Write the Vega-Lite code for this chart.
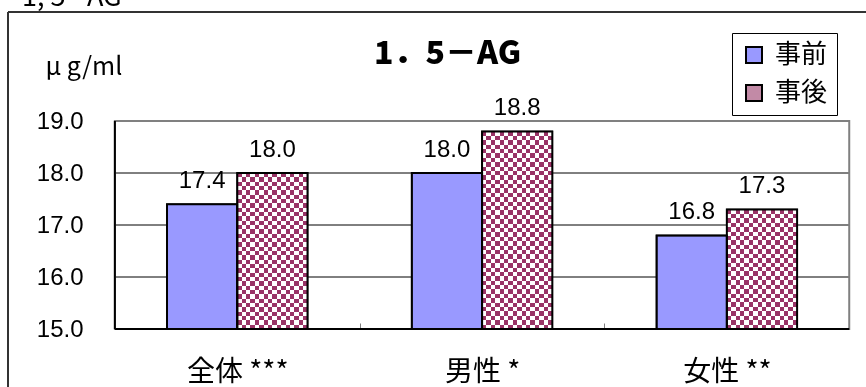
{
  "$schema": "https://vega.github.io/schema/vega-lite/v6.json",
  "autosize": "none",
  "width": 858,
  "height": 375,
  "padding": {"left": 8, "top": 12, "right": 0, "bottom": 0},
  "background": "white",
  "config": {
    "view": {"stroke": "#333333", "strokeWidth": 2, "strokeDash": [858, 1233, 375, 0]},
    "font": "Liberation Sans, Noto Sans CJK JP"
  },
  "title": {
    "text": "1, 5 - AG",
    "font": "Noto Sans CJK JP",
    "fontWeight": "normal",
    "fontSize": 27,
    "anchor": "start",
    "frame": "group",
    "baseline": "alphabetic",
    "offset": -21,
    "dx": 14,
    "color": "black"
  },
  "datasets": {
    "bars": [
      {"cat": "全体 ***", "when": "事前", "value": 17.4},
      {"cat": "全体 ***", "when": "事後", "value": 18.0},
      {"cat": "男性 *", "when": "事前", "value": 18.0},
      {"cat": "男性 *", "when": "事後", "value": 18.8},
      {"cat": "女性 **", "when": "事前", "value": 16.8},
      {"cat": "女性 **", "when": "事後", "value": 17.3}
    ],
    "grid": [{"v": 16}, {"v": 17}, {"v": 18}],
    "one": [{"k": 1}]
  },
  "encoding": {
    "x": {
      "field": "cat",
      "type": "nominal",
      "sort": ["全体 ***", "男性 *", "女性 **"],
      "scale": {"paddingInner": 0.426, "paddingOuter": 0.4655, "align": 0.6977},
      "axis": {
        "title": "1．5－AG",
        "titleFont": "Noto Sans CJK JP",
        "titleFontSize": 32,
        "titleFontWeight": 900,
        "titleColor": "black",
        "titleAlign": "center",
        "titleBaseline": "alphabetic",
        "titleAnchor": "middle",
        "titleX": 439,
        "titleY": -266,
        "orient": "bottom",
        "offset": -58,
        "domain": false,
        "grid": false,
        "ticks": true,
        "bandPosition": 1,
        "tickOffset": 52.1,
        "labelOffset": -52.1,
        "tickSize": -6,
        "tickColor": "#808080",
        "tickWidth": 1,
        "labelAngle": 0,
        "labelFont": "Noto Sans CJK JP",
        "labelFontSize": 28,
        "labelColor": "black",
        "labelPadding": 35
      }
    },
    "y": {
      "type": "quantitative",
      "scale": {"domain": [13.885, 21.096], "nice": false, "zero": false},
      "axis": {
        "orient": "left",
        "offset": -107,
        "values": [15, 16, 17, 18, 19],
        "format": ".1f",
        "domain": false,
        "ticks": false,
        "tickSize": 0,
        "grid": false,
        "labelPadding": 32,
        "labelFontSize": 24,
        "labelColor": "black",
        "labelFont": "Liberation Sans",
        "title": "μ g/ml",
        "titleAngle": 0,
        "titleAlign": "left",
        "titleBaseline": "middle",
        "titleX": -70,
        "titleY": 54,
        "titleFont": "Noto Sans CJK JP",
        "titleFontSize": 25,
        "titleFontWeight": "normal",
        "titleColor": "black"
      }
    }
  },
  "layer": [
    {
      "data": {"name": "grid"},
      "mark": {"type": "rule", "color": "black", "strokeWidth": 1},
      "encoding": {
        "y": {"field": "v", "type": "quantitative"},
        "x": {"datum": "全体 ***", "bandPosition": -0.371},
        "x2": {"datum": "女性 **", "bandPosition": 1.371}
      }
    },
    {
      "data": {"name": "one"},
      "mark": {"type": "rect", "fillOpacity": 0, "stroke": "#808080", "strokeWidth": 2},
      "encoding": {
        "x": {"datum": "全体 ***", "bandPosition": -0.371},
        "x2": {"datum": "女性 **", "bandPosition": 1.371},
        "y": {"datum": 19},
        "y2": {"datum": 15}
      }
    },
    {
      "data": {"name": "bars"},
      "mark": {"type": "bar", "stroke": "black", "strokeWidth": 1.5},
      "encoding": {
        "xOffset": {"field": "when", "type": "nominal", "scale": {"domain": ["事前", "事後"], "paddingInner": 0, "paddingOuter": 0}},
        "y": {"field": "value", "type": "quantitative"},
        "y2": {"datum": 15},
        "fill": {
          "field": "when",
          "type": "nominal",
          "scale": {"domain": ["事前", "事後"], "range": ["#9999FF", "#C28AA6"]},
          "legend": {
            "orient": "none",
            "legendX": 724,
            "legendY": 21,
            "direction": "vertical",
            "title": null,
            "strokeColor": "black",
            "fillColor": "white",
            "padding": 9,
            "symbolType": "square",
            "symbolSize": 256,
            "symbolStrokeColor": "black",
            "symbolStrokeWidth": 2,
            "symbolOpacity": 1,
            "labelFont": "Noto Sans CJK JP",
            "labelFontSize": 26,
            "labelColor": "black",
            "labelOffset": 8,
            "rowPadding": 12
          }
        }
      }
    },
    {
      "data": {"name": "bars"},
      "transform": [{"filter": "datum.when === '事後'"}],
      "mark": {
        "type": "bar",
        "strokeWidth": 0,
        "fill": {"gradient": "linear", "x1": 0, "y1": 0, "x2": 1, "y2": 0, "stops": [
          {"offset": 0, "color": "#000"}, {"offset": 0.0625, "color": "#000"}, {"offset": 0.0625, "color": "#fff"}, {"offset": 0.125, "color": "#fff"},
          {"offset": 0.125, "color": "#000"}, {"offset": 0.1875, "color": "#000"}, {"offset": 0.1875, "color": "#fff"}, {"offset": 0.25, "color": "#fff"},
          {"offset": 0.25, "color": "#000"}, {"offset": 0.3125, "color": "#000"}, {"offset": 0.3125, "color": "#fff"}, {"offset": 0.375, "color": "#fff"},
          {"offset": 0.375, "color": "#000"}, {"offset": 0.4375, "color": "#000"}, {"offset": 0.4375, "color": "#fff"}, {"offset": 0.5, "color": "#fff"},
          {"offset": 0.5, "color": "#000"}, {"offset": 0.5625, "color": "#000"}, {"offset": 0.5625, "color": "#fff"}, {"offset": 0.625, "color": "#fff"},
          {"offset": 0.625, "color": "#000"}, {"offset": 0.6875, "color": "#000"}, {"offset": 0.6875, "color": "#fff"}, {"offset": 0.75, "color": "#fff"},
          {"offset": 0.75, "color": "#000"}, {"offset": 0.8125, "color": "#000"}, {"offset": 0.8125, "color": "#fff"}, {"offset": 0.875, "color": "#fff"},
          {"offset": 0.875, "color": "#000"}, {"offset": 0.9375, "color": "#000"}, {"offset": 0.9375, "color": "#fff"}, {"offset": 1, "color": "#fff"}
        ]}
      },
      "encoding": {
        "xOffset": {"field": "when", "type": "nominal", "scale": {"domain": ["事前", "事後"], "paddingInner": 0, "paddingOuter": 0}},
        "y": {"field": "value", "type": "quantitative"},
        "y2": {"datum": 15}
      }
    },
    {
      "data": {"name": "bars"},
      "transform": [{"filter": "datum.when === '事後' && datum.cat === '全体 ***'"}],
      "mark": {
        "type": "bar",
        "strokeWidth": 0,
        "blend": "difference",
        "fill": {"gradient": "linear", "x1": 0, "y1": 0, "x2": 0, "y2": 1, "stops": [
          {"offset": 0, "color": "#000"}, {"offset": 0.0278, "color": "#000"}, {"offset": 0.0278, "color": "#fff"}, {"offset": 0.0556, "color": "#fff"},
          {"offset": 0.0556, "color": "#000"}, {"offset": 0.0833, "color": "#000"}, {"offset": 0.0833, "color": "#fff"}, {"offset": 0.1111, "color": "#fff"},
          {"offset": 0.1111, "color": "#000"}, {"offset": 0.1389, "color": "#000"}, {"offset": 0.1389, "color": "#fff"}, {"offset": 0.1667, "color": "#fff"},
          {"offset": 0.1667, "color": "#000"}, {"offset": 0.1944, "color": "#000"}, {"offset": 0.1944, "color": "#fff"}, {"offset": 0.2222, "color": "#fff"},
          {"offset": 0.2222, "color": "#000"}, {"offset": 0.25, "color": "#000"}, {"offset": 0.25, "color": "#fff"}, {"offset": 0.2778, "color": "#fff"},
          {"offset": 0.2778, "color": "#000"}, {"offset": 0.3056, "color": "#000"}, {"offset": 0.3056, "color": "#fff"}, {"offset": 0.3333, "color": "#fff"},
          {"offset": 0.3333, "color": "#000"}, {"offset": 0.3611, "color": "#000"}, {"offset": 0.3611, "color": "#fff"}, {"offset": 0.3889, "color": "#fff"},
          {"offset": 0.3889, "color": "#000"}, {"offset": 0.4167, "color": "#000"}, {"offset": 0.4167, "color": "#fff"}, {"offset": 0.4444, "color": "#fff"},
          {"offset": 0.4444, "color": "#000"}, {"offset": 0.4722, "color": "#000"}, {"offset": 0.4722, "color": "#fff"}, {"offset": 0.5, "color": "#fff"},
          {"offset": 0.5, "color": "#000"}, {"offset": 0.5278, "color": "#000"}, {"offset": 0.5278, "color": "#fff"}, {"offset": 0.5556, "color": "#fff"},
          {"offset": 0.5556, "color": "#000"}, {"offset": 0.5833, "color": "#000"}, {"offset": 0.5833, "color": "#fff"}, {"offset": 0.6111, "color": "#fff"},
          {"offset": 0.6111, "color": "#000"}, {"offset": 0.6389, "color": "#000"}, {"offset": 0.6389, "color": "#fff"}, {"offset": 0.6667, "color": "#fff"},
          {"offset": 0.6667, "color": "#000"}, {"offset": 0.6944, "color": "#000"}, {"offset": 0.6944, "color": "#fff"}, {"offset": 0.7222, "color": "#fff"},
          {"offset": 0.7222, "color": "#000"}, {"offset": 0.75, "color": "#000"}, {"offset": 0.75, "color": "#fff"}, {"offset": 0.7778, "color": "#fff"},
          {"offset": 0.7778, "color": "#000"}, {"offset": 0.8056, "color": "#000"}, {"offset": 0.8056, "color": "#fff"}, {"offset": 0.8333, "color": "#fff"},
          {"offset": 0.8333, "color": "#000"}, {"offset": 0.8611, "color": "#000"}, {"offset": 0.8611, "color": "#fff"}, {"offset": 0.8889, "color": "#fff"},
          {"offset": 0.8889, "color": "#000"}, {"offset": 0.9167, "color": "#000"}, {"offset": 0.9167, "color": "#fff"}, {"offset": 0.9444, "color": "#fff"},
          {"offset": 0.9444, "color": "#000"}, {"offset": 0.9722, "color": "#000"}, {"offset": 0.9722, "color": "#fff"}, {"offset": 1, "color": "#fff"}
        ]}
      },
      "encoding": {
        "xOffset": {"field": "when", "type": "nominal", "scale": {"domain": ["事前", "事後"], "paddingInner": 0, "paddingOuter": 0}},
        "y": {"field": "value", "type": "quantitative"},
        "y2": {"datum": 15}
      }
    },
    {
      "data": {"name": "bars"},
      "transform": [{"filter": "datum.when === '事後' && datum.cat === '男性 *'"}],
      "mark": {
        "type": "bar",
        "strokeWidth": 0,
        "blend": "difference",
        "fill": {"gradient": "linear", "x1": 0, "y1": 0, "x2": 0, "y2": 1, "stops": [
          {"offset": 0, "color": "#000"}, {"offset": 0.0222, "color": "#000"}, {"offset": 0.0222, "color": "#fff"}, {"offset": 0.0444, "color": "#fff"},
          {"offset": 0.0444, "color": "#000"}, {"offset": 0.0667, "color": "#000"}, {"offset": 0.0667, "color": "#fff"}, {"offset": 0.0889, "color": "#fff"},
          {"offset": 0.0889, "color": "#000"}, {"offset": 0.1111, "color": "#000"}, {"offset": 0.1111, "color": "#fff"}, {"offset": 0.1333, "color": "#fff"},
          {"offset": 0.1333, "color": "#000"}, {"offset": 0.1556, "color": "#000"}, {"offset": 0.1556, "color": "#fff"}, {"offset": 0.1778, "color": "#fff"},
          {"offset": 0.1778, "color": "#000"}, {"offset": 0.2, "color": "#000"}, {"offset": 0.2, "color": "#fff"}, {"offset": 0.2222, "color": "#fff"},
          {"offset": 0.2222, "color": "#000"}, {"offset": 0.2444, "color": "#000"}, {"offset": 0.2444, "color": "#fff"}, {"offset": 0.2667, "color": "#fff"},
          {"offset": 0.2667, "color": "#000"}, {"offset": 0.2889, "color": "#000"}, {"offset": 0.2889, "color": "#fff"}, {"offset": 0.3111, "color": "#fff"},
          {"offset": 0.3111, "color": "#000"}, {"offset": 0.3333, "color": "#000"}, {"offset": 0.3333, "color": "#fff"}, {"offset": 0.3556, "color": "#fff"},
          {"offset": 0.3556, "color": "#000"}, {"offset": 0.3778, "color": "#000"}, {"offset": 0.3778, "color": "#fff"}, {"offset": 0.4, "color": "#fff"},
          {"offset": 0.4, "color": "#000"}, {"offset": 0.4222, "color": "#000"}, {"offset": 0.4222, "color": "#fff"}, {"offset": 0.4444, "color": "#fff"},
          {"offset": 0.4444, "color": "#000"}, {"offset": 0.4667, "color": "#000"}, {"offset": 0.4667, "color": "#fff"}, {"offset": 0.4889, "color": "#fff"},
          {"offset": 0.4889, "color": "#000"}, {"offset": 0.5111, "color": "#000"}, {"offset": 0.5111, "color": "#fff"}, {"offset": 0.5333, "color": "#fff"},
          {"offset": 0.5333, "color": "#000"}, {"offset": 0.5556, "color": "#000"}, {"offset": 0.5556, "color": "#fff"}, {"offset": 0.5778, "color": "#fff"},
          {"offset": 0.5778, "color": "#000"}, {"offset": 0.6, "color": "#000"}, {"offset": 0.6, "color": "#fff"}, {"offset": 0.6222, "color": "#fff"},
          {"offset": 0.6222, "color": "#000"}, {"offset": 0.6444, "color": "#000"}, {"offset": 0.6444, "color": "#fff"}, {"offset": 0.6667, "color": "#fff"},
          {"offset": 0.6667, "color": "#000"}, {"offset": 0.6889, "color": "#000"}, {"offset": 0.6889, "color": "#fff"}, {"offset": 0.7111, "color": "#fff"},
          {"offset": 0.7111, "color": "#000"}, {"offset": 0.7333, "color": "#000"}, {"offset": 0.7333, "color": "#fff"}, {"offset": 0.7556, "color": "#fff"},
          {"offset": 0.7556, "color": "#000"}, {"offset": 0.7778, "color": "#000"}, {"offset": 0.7778, "color": "#fff"}, {"offset": 0.8, "color": "#fff"},
          {"offset": 0.8, "color": "#000"}, {"offset": 0.8222, "color": "#000"}, {"offset": 0.8222, "color": "#fff"}, {"offset": 0.8444, "color": "#fff"},
          {"offset": 0.8444, "color": "#000"}, {"offset": 0.8667, "color": "#000"}, {"offset": 0.8667, "color": "#fff"}, {"offset": 0.8889, "color": "#fff"},
          {"offset": 0.8889, "color": "#000"}, {"offset": 0.9111, "color": "#000"}, {"offset": 0.9111, "color": "#fff"}, {"offset": 0.9333, "color": "#fff"},
          {"offset": 0.9333, "color": "#000"}, {"offset": 0.9556, "color": "#000"}, {"offset": 0.9556, "color": "#fff"}, {"offset": 0.9778, "color": "#fff"},
          {"offset": 0.9778, "color": "#000"}, {"offset": 1, "color": "#000"}
        ]}
      },
      "encoding": {
        "xOffset": {"field": "when", "type": "nominal", "scale": {"domain": ["事前", "事後"], "paddingInner": 0, "paddingOuter": 0}},
        "y": {"field": "value", "type": "quantitative"},
        "y2": {"datum": 15}
      }
    },
    {
      "data": {"name": "bars"},
      "transform": [{"filter": "datum.when === '事後' && datum.cat === '女性 **'"}],
      "mark": {
        "type": "bar",
        "strokeWidth": 0,
        "blend": "difference",
        "fill": {"gradient": "linear", "x1": 0, "y1": 0, "x2": 0, "y2": 1, "stops": [
          {"offset": 0, "color": "#000"}, {"offset": 0.037, "color": "#000"}, {"offset": 0.037, "color": "#fff"}, {"offset": 0.0741, "color": "#fff"},
          {"offset": 0.0741, "color": "#000"}, {"offset": 0.1111, "color": "#000"}, {"offset": 0.1111, "color": "#fff"}, {"offset": 0.1481, "color": "#fff"},
          {"offset": 0.1481, "color": "#000"}, {"offset": 0.1852, "color": "#000"}, {"offset": 0.1852, "color": "#fff"}, {"offset": 0.2222, "color": "#fff"},
          {"offset": 0.2222, "color": "#000"}, {"offset": 0.2593, "color": "#000"}, {"offset": 0.2593, "color": "#fff"}, {"offset": 0.2963, "color": "#fff"},
          {"offset": 0.2963, "color": "#000"}, {"offset": 0.3333, "color": "#000"}, {"offset": 0.3333, "color": "#fff"}, {"offset": 0.3704, "color": "#fff"},
          {"offset": 0.3704, "color": "#000"}, {"offset": 0.4074, "color": "#000"}, {"offset": 0.4074, "color": "#fff"}, {"offset": 0.4444, "color": "#fff"},
          {"offset": 0.4444, "color": "#000"}, {"offset": 0.4815, "color": "#000"}, {"offset": 0.4815, "color": "#fff"}, {"offset": 0.5185, "color": "#fff"},
          {"offset": 0.5185, "color": "#000"}, {"offset": 0.5556, "color": "#000"}, {"offset": 0.5556, "color": "#fff"}, {"offset": 0.5926, "color": "#fff"},
          {"offset": 0.5926, "color": "#000"}, {"offset": 0.6296, "color": "#000"}, {"offset": 0.6296, "color": "#fff"}, {"offset": 0.6667, "color": "#fff"},
          {"offset": 0.6667, "color": "#000"}, {"offset": 0.7037, "color": "#000"}, {"offset": 0.7037, "color": "#fff"}, {"offset": 0.7407, "color": "#fff"},
          {"offset": 0.7407, "color": "#000"}, {"offset": 0.7778, "color": "#000"}, {"offset": 0.7778, "color": "#fff"}, {"offset": 0.8148, "color": "#fff"},
          {"offset": 0.8148, "color": "#000"}, {"offset": 0.8519, "color": "#000"}, {"offset": 0.8519, "color": "#fff"}, {"offset": 0.8889, "color": "#fff"},
          {"offset": 0.8889, "color": "#000"}, {"offset": 0.9259, "color": "#000"}, {"offset": 0.9259, "color": "#fff"}, {"offset": 0.963, "color": "#fff"},
          {"offset": 0.963, "color": "#000"}, {"offset": 1, "color": "#000"}
        ]}
      },
      "encoding": {
        "xOffset": {"field": "when", "type": "nominal", "scale": {"domain": ["事前", "事後"], "paddingInner": 0, "paddingOuter": 0}},
        "y": {"field": "value", "type": "quantitative"},
        "y2": {"datum": 15}
      }
    },
    {
      "data": {"name": "bars"},
      "transform": [{"filter": "datum.when === '事後'"}],
      "mark": {"type": "bar", "strokeWidth": 0, "fill": "#993366", "blend": "lighten"},
      "encoding": {
        "xOffset": {"field": "when", "type": "nominal", "scale": {"domain": ["事前", "事後"], "paddingInner": 0, "paddingOuter": 0}},
        "y": {"field": "value", "type": "quantitative"},
        "y2": {"datum": 15}
      }
    },
    {
      "data": {"name": "bars"},
      "mark": {"type": "bar", "fill": "white", "fillOpacity": 0, "stroke": "black", "strokeWidth": 2},
      "encoding": {
        "xOffset": {"field": "when", "type": "nominal", "scale": {"domain": ["事前", "事後"], "paddingInner": 0, "paddingOuter": 0}},
        "y": {"field": "value", "type": "quantitative"},
        "y2": {"datum": 15}
      }
    },
    {
      "data": {"name": "bars"},
      "mark": {"type": "text", "baseline": "alphabetic", "dy": -16, "fontSize": 24, "font": "Liberation Sans", "color": "black"},
      "encoding": {
        "xOffset": {"field": "when", "type": "nominal", "scale": {"domain": ["事前", "事後"], "paddingInner": 0, "paddingOuter": 0}},
        "y": {"field": "value", "type": "quantitative"},
        "text": {"field": "value", "type": "quantitative", "format": ".1f"}
      }
    },
    {
      "data": {"name": "one"},
      "mark": {"type": "rule", "color": "black", "strokeWidth": 2},
      "encoding": {
        "x": {"datum": "全体 ***", "bandPosition": -0.371},
        "y": {"datum": 19},
        "y2": {"datum": 15}
      }
    },
    {
      "data": {"name": "one"},
      "mark": {"type": "rule", "color": "black", "strokeWidth": 2},
      "encoding": {
        "y": {"datum": 15},
        "x": {"datum": "全体 ***", "bandPosition": -0.371},
        "x2": {"datum": "女性 **", "bandPosition": 1.371}
      }
    }
  ]
}
